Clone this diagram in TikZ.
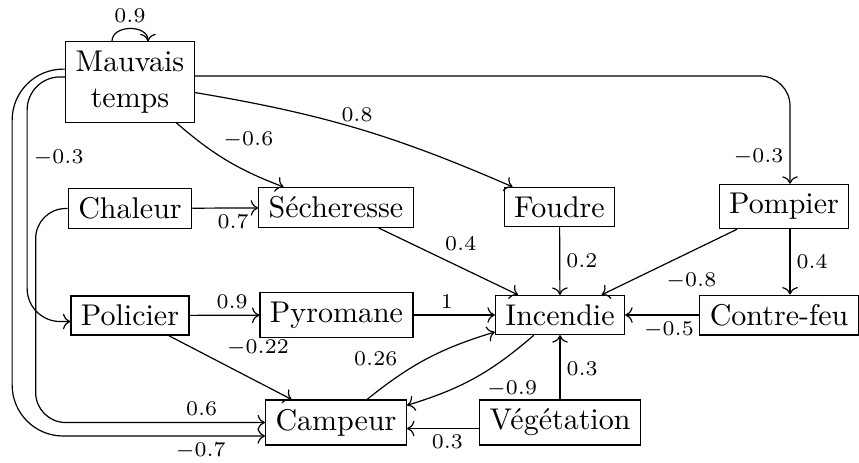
\documentclass[tikz,border=0pt]{standalone}
\usepackage{amsmath,amssymb}
\usepackage{tikz}
\usetikzlibrary{arrows.meta}

\begin{document}
\begin{tikzpicture}[
    x=0.3333pt, y=-0.3333pt,
    var/.style={draw, align=center, inner ysep=3pt},
    line/.style={->},
    weight/.style={font=\scriptsize, inner sep=2pt}
]
\useasboundingbox (0,0) rectangle (859,462);
\node[var] (mt)         at (130,82)    {Mauvais\\temps};
\node[var] (chaleur)    at (130,208.5) {Chaleur};
\node[var] (secheresse) at (336,207.5) {Sécheresse};
\node[var] (foudre)     at (559.5,207) {Foudre};
\node[var] (pompier)    at (784,206.5) {Pompier};
\node[var] (policier)   at (130,315.5) {Policier};
\node[var] (pyromane)   at (336.5,315) {Pyromane};
\node[var] (incendie)   at (560,315)   {Incendie};
\node[var] (contrefeu)  at (779,315)   {Contre-feu};
\node[var] (campeur)    at (336,422.5) {Campeur};
\node[var] (vegetation) at (560,422.5) {Végétation};
\coordinate (pc) at ([xshift=2pt]pompier.south);

\draw[line] ([xshift=-6pt]mt.north) to[out=90, in=90, looseness=1.2] node[weight, above] {$0.9$} ([xshift=6pt]mt.north);
\draw[line, rounded corners=10pt] ([yshift=2pt]mt.east) -| node[weight, pos=0.876, left] {$-0.3$} ([xshift=2pt]pompier.north);
\draw[line] (mt) to[bend right=10] node[weight, pos=0.4, above right] {$-0.6$} (secheresse);
\draw[line] (mt) to[bend left=7] node[weight, pos=0.5, above] {$0.8$} (foudre);
\draw[line, rounded corners=11pt] ([yshift=1.7pt]mt.west) -- ++(-38,0) |- node[weight, pos=0.165, right] {$-0.3$} ([yshift=-2pt]policier.west);
\draw[line, rounded corners=17pt] ([yshift=4.3pt]mt.west) -- ++(-53,0) |- node[weight, pos=0.873, below] {$-0.7$} ([yshift=-4.5pt]campeur.west);

\draw[line] (chaleur) -- node[weight, pos=0.62, below] {$0.7$} (secheresse);
\draw[line, rounded corners=10pt] (chaleur.west) -- ++(-32,0) |- node[weight, pos=0.862, above] {$0.6$} (campeur.west);
\draw[line] (policier) -- node[weight, pos=0.61, above] {$0.9$} (pyromane);
\draw[line] (policier) -- node[weight, pos=0.42, above right] {$-0.22$} (campeur);
\draw[line] (pyromane) -- node[weight, pos=0.41, above] {$1$} (incendie);
\draw[line] (secheresse) -- node[weight, pos=0.43, above right] {$0.4$} (incendie);
\draw[line] (foudre) -- node[weight, right] {$0.2$} (incendie);
\draw[line] (pompier) -- node[weight, pos=0.57, below right] {$-0.8$} (incendie);
\draw[line] (pc) -- node[weight, right] {$0.4$} (pc |- contrefeu.north);
\draw[line] (contrefeu) -- node[weight, pos=0.41, below] {$-0.5$} (incendie);
\draw[line] (campeur) to[bend left=11] node[weight, pos=0.3, above left] {$0.26$} (incendie);
\draw[line] (incendie) to[bend left=12] node[weight, pos=0.45, below right] {$-0.9$} (campeur);
\draw[line] (vegetation) -- node[weight, pos=0.47, right] {$0.3$} (incendie);
\draw[line] ([yshift=-2pt]vegetation.west) -- node[weight, pos=0.44, below] {$0.3$} ([yshift=-2pt]campeur.east);
\end{tikzpicture}
\end{document}
